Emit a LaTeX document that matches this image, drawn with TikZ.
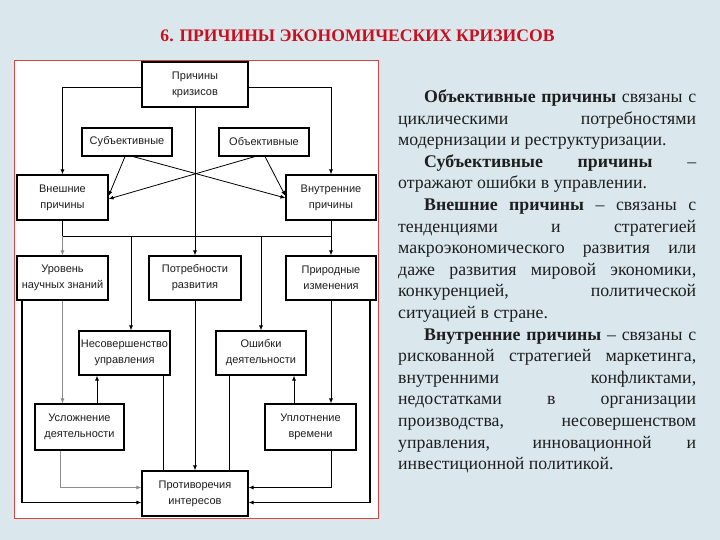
\documentclass[tikz,border=0pt]{standalone}
\usepackage{fontspec}
\setmainfont{Liberation Serif}
\newfontfamily\boxfont{Liberation Sans}
\usetikzlibrary{arrows.meta}
\definecolor{bgc}{RGB}{218,232,238}
\definecolor{titlered}{RGB}{200,16,30}
\definecolor{panelred}{RGB}{215,70,70}
\definecolor{textc}{RGB}{30,30,30}
\definecolor{lightln}{RGB}{140,140,140}
\begin{document}
\begin{tikzpicture}[x=1pt,y=-1pt,
  box/.style={draw=black,line width=1.1pt,fill=white,inner sep=1pt,align=center,
    text=textc,font=\boxfont\fontsize{11}{16}\selectfont},
  ln/.style={line width=0.8pt},
  conn/.style={line width=0.8pt,-{Latex[length=5pt,width=4pt]}},
  thick ln/.style={line width=1.3pt},
  thick conn/.style={line width=1.3pt,-{Latex[length=5pt,width=4pt]}},
  grey ln/.style={line width=0.8pt,draw=lightln},
  grey conn/.style={line width=0.8pt,draw=lightln,-{Latex[length=5pt,width=4pt]}}]
\useasboundingbox (0,0) rectangle (720,540);
\fill[bgc] (0,0) rectangle (720,540);
\draw[panelred,fill=white,line width=0.8pt] (14,60) rectangle (378,518);

\node[font=\bfseries\fontsize{17.6}{20}\selectfont,text=titlered] (title) at (357.5,35.5) {6. ПРИЧИНЫ ЭКОНОМИЧЕСКИХ КРИЗИСОВ};

% boxes
\node[box,minimum width=106pt,minimum height=45pt] (P) at (195,84.5) {Причины\\кризисов};
\node[box,minimum width=90pt,minimum height=28pt] (S) at (127,142) {Субъективные};
\node[box,minimum width=90pt,minimum height=28pt] (O) at (264,142) {Объективные};
\node[box,minimum width=91pt,minimum height=45pt] (E) at (62.5,197.5) {Внешние\\причины};
\node[box,minimum width=90pt,minimum height=45pt] (I) at (331,197.5) {Внутренние\\причины};
\node[box,minimum width=91pt,minimum height=44pt] (U) at (62.5,278) {Уровень\\научных знаний};
\node[box,minimum width=92pt,minimum height=44pt] (N) at (195,278) {Потребности\\развития};
\node[box,minimum width=90pt,minimum height=44pt] (R) at (331,278) {Природные\\изменения};
\node[box,minimum width=91pt,minimum height=44pt] (M) at (124.5,353) {Несовершенство\\управления};
\node[box,minimum width=90pt,minimum height=44pt] (D) at (261,353) {Ошибки\\деятельности};
\node[box,minimum width=89pt,minimum height=46pt] (C) at (79.5,427) {Усложнение\\деятельности};
\node[box,minimum width=91pt,minimum height=46pt] (T) at (310.5,427) {Уплотнение\\времени};
\node[box,minimum width=106pt,minimum height=45pt] (K) at (195,493.5) {Противоречия\\интересов};

% top connectors
\draw[conn] ([yshift=-3pt]P.west) -| (E.north);
\draw[conn] ([yshift=-3pt]P.east) -| (I.north);
\draw[conn] (P.south) -- (N.north);
\draw[conn] ([xshift=-2pt]S.south) -- ([yshift=1.5pt]E.east);
\draw[conn] ([xshift=6pt]S.south) -- ([yshift=-0.5pt]I.west);
\draw[conn] ([xshift=-9pt]O.south) -- ([yshift=-1.5pt]E.east);
\draw[conn] ([xshift=1pt]O.south) -- ([yshift=1.5pt]I.west);

% bus
\coordinate (busL) at (62.5,236);
\coordinate (busR) at (331,236);
\draw[ln] (E.south) -- (busL) -- (busR) -- (I.south);
\draw[grey conn] (busL) -- (U.north);
\draw[conn] ([xshift=6.5pt]M.north |- busL) -- ([xshift=6.5pt]M.north);
\draw[conn] (D.north |- busL) -- (D.north);
\draw[conn] (busR) -- (R.north);

% lower connectors
\draw[grey conn] (U.south) -- (U.south |- C.north);
\draw[grey conn] ([xshift=-19.5pt]C.south) |- ([yshift=6pt]K.west);
\draw[thick conn] ([xshift=-40.5pt]U.south) |- ([yshift=-9pt]K.west);
\draw[conn] ([xshift=17.5pt]C.north) -- ([xshift=17.5pt]C.north |- M.south);
\draw[ln] ([xshift=38.5pt]M.south) -- ([xshift=38.5pt]M.south |- K.north);
\draw[conn] (N.south) -- (K.north);
\draw[ln] ([xshift=-32pt]D.south) -- ([xshift=-32pt]D.south |- K.north);
\draw[conn] ([xshift=-16.5pt]T.north) -- ([xshift=-16.5pt]T.north |- D.south);
\draw[conn] (R.south) -- (R.south |- T.north);
\draw[conn] ([xshift=20.5pt]T.south) |- ([yshift=6pt]K.east);
\draw[thick conn] ([xshift=39pt]R.south) |- ([yshift=-9pt]K.east);

% right text
\node[anchor=north west,inner sep=0pt,text=textc,align=left,
  font=\fontsize{17.8}{21.6}\selectfont] (txt) at (398,89.5) {%
\makebox[298pt][s]{\hspace*{26pt}\textbf{Объективные причины} связаны с}\\
\makebox[298pt][s]{циклическими потребностями}\\
модернизации и реструктуризации.\\
\makebox[298pt][s]{\hspace*{26pt}\textbf{Субъективные причины} –}\\
отражают ошибки в управлении.\\
\makebox[298pt][s]{\hspace*{26pt}\textbf{Внешние причины} – связаны с}\\
\makebox[298pt][s]{тенденциями и стратегией}\\
\makebox[298pt][s]{макроэкономического развития или}\\
\makebox[298pt][s]{даже развития мировой экономики,}\\
\makebox[298pt][s]{конкуренцией, политической}\\
ситуацией в стране.\\
\makebox[298pt][s]{\hspace*{26pt}\textbf{Внутренние причины} – связаны с}\\
\makebox[298pt][s]{рискованной стратегией маркетинга,}\\
\makebox[298pt][s]{внутренними конфликтами,}\\
\makebox[298pt][s]{недостатками в организации}\\
\makebox[298pt][s]{производства, несовершенством}\\
\makebox[298pt][s]{управления, инновационной и}\\
инвестиционной политикой.};
\end{tikzpicture}
\end{document}
